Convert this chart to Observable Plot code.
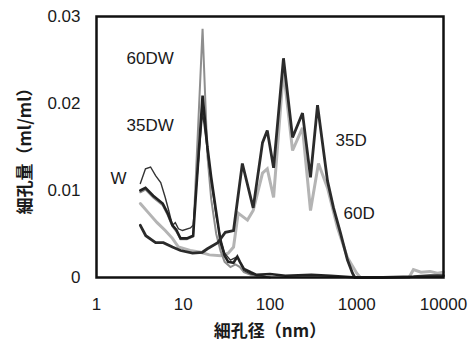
<!DOCTYPE html>
<html><head><meta charset="utf-8">
<script src="https://cdn.jsdelivr.net/npm/d3@7"></script>
<script src="https://cdn.jsdelivr.net/npm/@observablehq/plot@0.6"></script>
<style>html,body{margin:0;padding:0;background:#fff;}</style>
</head><body><div id="chart"></div>
<script>
// pore diameter (nm) and pore volume (ml/ml)
const W_x   = [3.2, 3.67, 4.2, 4.8, 5.5, 6.2, 6.8, 7.5, 8.1, 8.8, 9.8, 12.1, 13, 16.7, 19, 21, 24, 27, 30, 35, 42, 50, 60, 80, 100];
const W_y   = [0.0108, 0.0125, 0.0127, 0.0117, 0.0109, 0.0092, 0.0077, 0.0060, 0.0063, 0.0056, 0.0054, 0.0057, 0.0060, 0.0190, 0.0145, 0.0110, 0.0070, 0.0045, 0.0028, 0.0020, 0.0024, 0.0008, 0.0004, 0.0002, 0.0000];

const DW35_x = [3.2, 3.67, 4.5, 5.8, 6.6, 7.5, 8.3, 9.3, 11, 13, 16.7, 19, 21, 24, 27, 30, 33, 38, 42, 45, 50, 60, 70, 100, 150, 300, 500, 1000];
const DW35_y = [0.0100, 0.0103, 0.0094, 0.0085, 0.0074, 0.0060, 0.0055, 0.0045, 0.0045, 0.0048, 0.0209, 0.0150, 0.0115, 0.0075, 0.0040, 0.0025, 0.0018, 0.0017, 0.0024, 0.0018, 0.0010, 0.0006, 0.0003, 0.0004, 0.0002, 0.0003, 0.0002, 0.0000];

const DW60_x = [3.2, 3.67, 4.5, 5.8, 6.6, 7.5, 8.3, 9.3, 11, 13, 16.7, 19, 21, 24, 27, 30, 35, 40, 45, 50, 60, 80, 100];
const DW60_y = [0.0098, 0.0101, 0.0092, 0.0083, 0.0072, 0.0059, 0.0053, 0.0044, 0.0044, 0.0047, 0.0286, 0.0140, 0.0090, 0.0050, 0.0030, 0.0018, 0.0012, 0.0015, 0.0012, 0.0006, 0.0003, 0.0001, 0.0000];

const D35_x = [3.2, 3.7, 4.8, 5.9, 7.5, 9.3, 12.8, 16.6, 19, 25, 30.6, 38, 48, 64, 82, 93, 110, 143, 182, 237, 293, 353, 460, 540, 650, 782, 893, 950, 2000, 4500, 7000, 10000];
const D35_y = [0.0060, 0.0048, 0.0040, 0.0040, 0.0035, 0.0031, 0.0028, 0.0029, 0.0033, 0.0040, 0.0052, 0.0054, 0.0131, 0.0080, 0.0155, 0.0169, 0.0126, 0.0252, 0.0161, 0.0189, 0.0115, 0.0198, 0.0111, 0.0080, 0.0051, 0.0020, 0.0005, 0.0000, 0.0000, 0.0001, 0.0002, 0.0002];

const D60_x = [3.2, 4.0, 5.0, 6.2, 7.5, 8.8, 12, 15.8, 20, 27, 33, 38, 43, 55, 64, 82, 93, 110, 143, 182, 237, 293, 362, 460, 600, 780, 1000, 1100, 4000, 4500, 5500, 7000, 8500, 10000];
const D60_y = [0.0085, 0.0074, 0.0063, 0.0054, 0.0045, 0.0035, 0.0031, 0.0029, 0.0026, 0.0025, 0.0028, 0.0035, 0.0074, 0.0066, 0.0077, 0.0120, 0.0125, 0.0092, 0.0238, 0.0146, 0.0172, 0.0077, 0.0131, 0.0103, 0.0057, 0.0023, 0.0005, 0.0000, 0.0000, 0.0009, 0.0006, 0.0007, 0.0005, 0.0006];

const seriesNames  = ["60D", "60DW", "W", "35DW", "35D"];
const seriesX      = [D60_x, DW60_x, W_x, DW35_x, D35_x];
const seriesY      = [D60_y, DW60_y, W_y, DW35_y, D35_y];
const seriesColor  = ["#b4b4b4", "#8e8e8e", "#333333", "#222222", "#2b2b2b"];
const seriesWidth  = [3, 2, 1.4, 2.6, 2.8];

const labelText = ["60DW", "35DW", "W", "35D", "60D"];
const labelX    = [2.22, 2.22, 1.45, 569, 704];
const labelY    = [0.0252, 0.0175, 0.0114, 0.0157, 0.00735];

const xTicks = [1, 10, 100, 1000, 10000];
const yTicks = [0, 0.01, 0.02, 0.03];
const xTitle = "細孔径（nm）";
const yTitle = "細孔量（ml/ml）";

const lineMarks = seriesNames.map((name, i) => {
  const rows = seriesX[i].map((x, j) => ({series: name, x, y: seriesY[i][j]}));
  return Plot.line(rows, {x: "x", y: "y", stroke: seriesColor[i], strokeWidth: seriesWidth[i], strokeLinejoin: "miter", strokeMiterlimit: 3});
});

const labels = labelText.map((t, i) => ({t, x: labelX[i], y: labelY[i]}));

const chart = Plot.plot({
  width: 473, height: 341,
  marginLeft: 96, marginRight: 30, marginTop: 16, marginBottom: 64,
  style: {fontFamily: "'Liberation Sans', Arial, sans-serif", fontSize: "17px", color: "#1a1a1a", background: "#fff"},
  x: {type: "log", domain: [1, 10000]},
  y: {domain: [0, 0.03]},
  marks: [
    ...lineMarks,
    Plot.frame({stroke: "#111", strokeWidth: 2.5}),
    Plot.axisX({ticks: xTicks, tickSize: 0, tickPadding: 20, tickFormat: d => String(d), label: null, fontSize: 17}),
    Plot.axisY({ticks: yTicks, tickSize: 0, tickPadding: 16, tickFormat: d => d === 0 ? "0" : d.toFixed(2), label: null, fontSize: 17}),
    Plot.text(labels, {x: "x", y: "y", text: "t", textAnchor: "start", fontSize: 17, fill: "#1a1a1a"}),
    Plot.text([xTitle], {frameAnchor: "bottom", dy: 54, textAnchor: "middle", lineAnchor: "middle", text: d => d, fontSize: 17, fontWeight: "bold", fontFamily: "'Noto Sans CJK JP', sans-serif", fill: "#1a1a1a"}),
    Plot.text([yTitle], {frameAnchor: "left", dx: -71, rotate: -90, textAnchor: "middle", lineAnchor: "middle", text: d => d, fontSize: 17, fontWeight: "bold", fontFamily: "'Noto Sans CJK JP', sans-serif", fill: "#1a1a1a"})
  ]
});
document.getElementById("chart").appendChild(chart);
</script>
</body></html>
